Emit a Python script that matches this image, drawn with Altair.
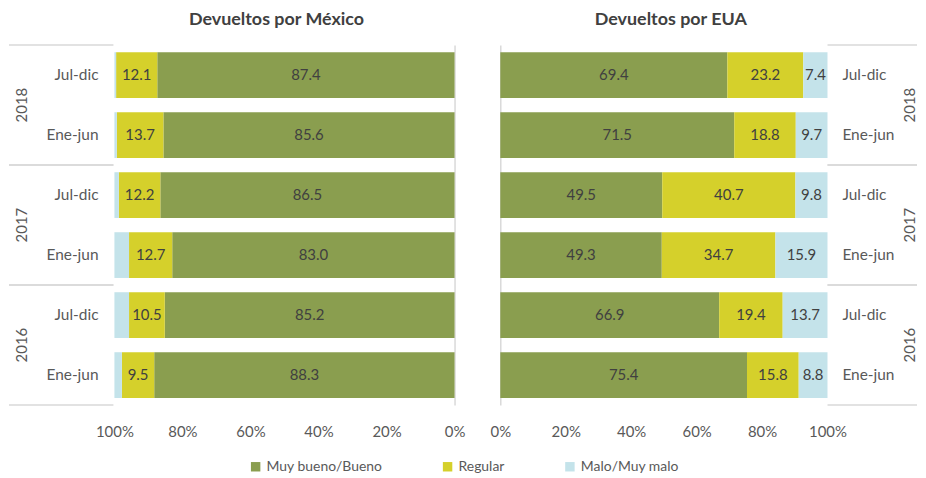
import altair as alt
import pandas as pd

years = ["2018", "2018", "2017", "2017", "2016", "2016"]
periods = ["Jul-dic", "Ene-jun", "Jul-dic", "Ene-jun", "Jul-dic", "Ene-jun"]
categories = ["Muy bueno/Bueno", "Regular", "Malo/Muy malo"]

mex_bueno = [87.4, 85.6, 86.5, 83.0, 85.2, 88.3]
mex_regular = [12.1, 13.7, 12.2, 12.7, 10.5, 9.5]
mex_malo = [0.5, 0.7, 1.3, 4.3, 4.3, 2.2]

eua_bueno = [69.4, 71.5, 49.5, 49.3, 66.9, 75.4]
eua_regular = [23.2, 18.8, 40.7, 34.7, 19.4, 15.8]
eua_malo = [7.4, 9.7, 9.8, 15.9, 13.7, 8.8]

colors = ["#8A9E4F", "#D5D02B", "#C4E3EA"]
FONT = "Lato"
TXT = "#404040"
LAB = "#595959"
LINE = "#D9D9D9"

keys = [f"{y} {p}" for y, p in zip(years, periods)]
year_order = ["2018", "2017", "2016"]


def make_df(b, r, m):
    rows = []
    for i in range(len(keys)):
        for j, (cat, vals) in enumerate(zip(categories, [b, r, m])):
            rows.append(dict(key=keys[i], year=years[i], period=periods[i],
                             cat=cat, order=j, value=vals[i]))
    return pd.DataFrame(rows)


lab_df = pd.DataFrame({"key": keys, "period": periods})
year_df = pd.DataFrame({"year": year_order})


def panel(df, title, reverse, width, show_malo, dx_title):
    height = 362
    yscale = alt.Scale(paddingInner=0.23, paddingOuter=0.115)
    yaxis = alt.Axis(orient="right" if reverse else "left", labels=False, ticks=False,
                     domain=True, domainColor=LINE, domainWidth=1.5, title=None, grid=False)
    y = alt.Y("key:N", sort=keys, scale=yscale, axis=yaxis)
    xscale = alt.Scale(domain=[0, 1], reverse=reverse, nice=False)
    base = alt.Chart(df).transform_stack(
        stack="value", as_=["x0", "x1"], groupby=["key"],
        sort=[alt.SortField(field="order", order="ascending")], offset="normalize"
    ).transform_calculate(mid="(datum.x0 + datum.x1) / 2")

    bars = base.mark_bar(size=46).encode(
        x=alt.X("x0:Q", scale=xscale, title=None,
                axis=alt.Axis(values=[0, 0.2, 0.4, 0.6, 0.8, 1.0], format="%", domain=False,
                              ticks=False, grid=False, labelFont=FONT, labelFontSize=15,
                              labelColor=LAB, labelPadding=20, labelFlush=False)),
        x2="x1:Q",
        y=y,
        color=alt.Color("cat:N", scale=alt.Scale(domain=categories, range=colors),
                        legend=alt.Legend(title=None)),
    )
    tb = base
    if not show_malo:
        tb = base.transform_filter(alt.datum.order < 2)
    texts = tb.mark_text(font=FONT, fontSize=15, color=TXT, baseline="middle").encode(
        x="mid:Q", y=y, text=alt.Text("value:Q", format=".1f"))

    if reverse:
        px, palign, yx, r1, r2 = -16, "right", -93, -106, -1
    else:
        px, palign, yx, r1, r2 = width + 15, "left", width + 83, width, width + 90

    plabels = alt.Chart(lab_df).mark_text(font=FONT, fontSize=15.5, color=LAB, align=palign,
                                          baseline="middle").encode(
        x=alt.value(px), y=y, text="period:N")

    yy = alt.Y("year:N", sort=year_order, scale=alt.Scale(paddingInner=0, paddingOuter=0), axis=None)
    ylabels = alt.Chart(year_df).mark_text(font=FONT, fontSize=15, color=LAB, angle=270,
                                           align="center", baseline="middle").encode(
        x=alt.value(yx), y=yy, text="year:N")
    rules_top = alt.Chart(year_df).mark_rule(color=LINE, strokeWidth=1.5).encode(
        x=alt.value(r1), x2=alt.value(r2),
        y=alt.Y("year:N", sort=year_order, scale=alt.Scale(paddingInner=0, paddingOuter=0),
                axis=None, bandPosition=0))
    rules_bot = alt.Chart(year_df).mark_rule(color=LINE, strokeWidth=1.5).encode(
        x=alt.value(r1), x2=alt.value(r2),
        y=alt.Y("year:N", sort=year_order, scale=alt.Scale(paddingInner=0, paddingOuter=0),
                axis=None, bandPosition=1))

    main = alt.layer(bars, texts, plabels)
    side = alt.layer(ylabels, rules_top, rules_bot)
    return alt.layer(main, side).resolve_scale(y="independent").properties(
        width=width, height=height,
        title=alt.TitleParams(title, font=FONT, fontSize=18, fontWeight="bold", color=TXT,
                              anchor="middle", frame="group", offset=15, dx=dx_title))


left = panel(make_df(mex_bueno, mex_regular, mex_malo), "Devueltos por México", True, 342, False, -8)
right = panel(make_df(eua_bueno, eua_regular, eua_malo), "Devueltos por EUA", False, 329, True, 7)

chart = alt.hconcat(left, right, spacing=46, bounds="flush").properties(
    padding={"top": 2, "left": 0, "right": 0, "bottom": 0}, background="white"
).configure_view(stroke=None).configure_legend(
    orient="none", legendX=135, legendY=417, direction="horizontal", symbolType="square",
    symbolSize=90, symbolStrokeWidth=0, labelFont=FONT, labelFontSize=14, labelColor=LAB,
    columnPadding=58
)

chart.save("out.html", embed_options={"renderer": "svg", "actions": False})
